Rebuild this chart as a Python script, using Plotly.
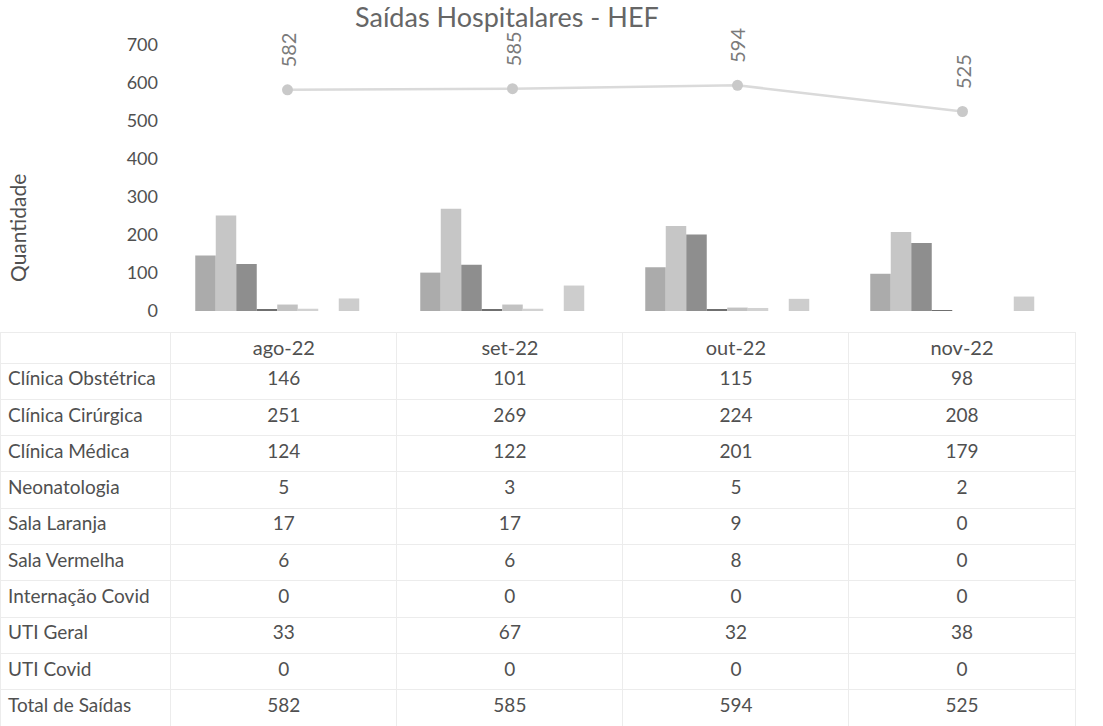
import plotly.graph_objects as go

W, H = 1103, 726

months = ["ago-22", "set-22", "out-22", "nov-22"]
series_names = [
    "Clínica Obstétrica", "Clínica Cirúrgica", "Clínica Médica", "Neonatologia",
    "Sala Laranja", "Sala Vermelha", "Internação Covid", "UTI Geral", "UTI Covid",
]
clinica_obstetrica = [146, 101, 115, 98]
clinica_cirurgica = [251, 269, 224, 208]
clinica_medica = [124, 122, 201, 179]
neonatologia = [5, 3, 5, 2]
sala_laranja = [17, 17, 9, 0]
sala_vermelha = [6, 6, 8, 0]
internacao_covid = [0, 0, 0, 0]
uti_geral = [33, 67, 32, 38]
uti_covid = [0, 0, 0, 0]
total_saidas = [582, 585, 594, 525]
total_name = "Total de Saídas"

series_values = [clinica_obstetrica, clinica_cirurgica, clinica_medica, neonatologia,
                 sala_laranja, sala_vermelha, internacao_covid, uti_geral, uti_covid]
bar_colors = ["#ababab", "#c6c6c6", "#8e8e8e", "#6f6f6f",
              "#c2c2c2", "#d2d2d2", "#bdbdbd", "#cdcdcd", "#bdbdbd"]

FONT = "Lato"
TXT = "#505050"

fig = go.Figure()
for name, vals, col in zip(series_names, series_values, bar_colors):
    fig.add_trace(go.Bar(x=months, y=vals, name=name, marker=dict(color=col, line=dict(width=0)),
                         xaxis="x", yaxis="y"))

fig.add_trace(go.Scatter(x=months, y=total_saidas, name=total_name, mode="lines+markers",
                         line=dict(color="#dadada", width=2.5),
                         marker=dict(color="#c9c9c9", size=11),
                         cliponaxis=False, xaxis="x", yaxis="y"))

for m, v in zip(months, total_saidas):
    fig.add_annotation(x=m, y=v, xref="x", yref="y", text=str(v), textangle=-90,
                       showarrow=False, yanchor="middle", yshift=40,
                       font=dict(family=FONT, size=20, color="#7a7a7a"))

# data table below chart
header_vals = [""] + months
cell_cols = [series_names + [total_name]]
for i in range(len(months)):
    cell_cols.append([str(s[i]) for s in series_values] + [str(total_saidas[i])])

x_left = 175 / W
x_right = 1075 / W
fig.add_trace(go.Table(
    domain=dict(x=[0, x_right], y=[0, 1 - 332 / H]),
    columnwidth=[170, 225, 225, 225, 225],
    header=dict(values=header_vals, height=31,
                align=["left", "center", "center", "center", "center"],
                fill=dict(color="white"), line=dict(color="#ececec", width=1),
                font=dict(family=FONT, size=20, color=TXT)),
    cells=dict(values=cell_cols, height=36.3,
               align=["left", "center", "center", "center", "center"],
               fill=dict(color="white"), line=dict(color="#ececec", width=1),
               font=dict(family=FONT, size=19, color=TXT)),
))

fig.update_layout(
    width=W, height=H,
    margin=dict(l=0, r=0, t=0, b=0),
    paper_bgcolor="white", plot_bgcolor="white",
    showlegend=False,
    barmode="group", bargap=0.18, bargroupgap=0,
    xaxis=dict(domain=[x_left, x_right], showticklabels=False, showgrid=False,
               zeroline=False, showline=False, ticks="", automargin=False),
    yaxis=dict(domain=[1 - 311 / H, 1 - 45 / H], range=[0, 700], dtick=100,
               showgrid=False, zeroline=False, showline=False, ticks="",
               ticklabelstandoff=16, automargin=False,
               tickfont=dict(family=FONT, size=18, color=TXT)),
    font=dict(family=FONT),
)

fig.add_annotation(text="Saídas Hospitalares - HEF", xref="paper", yref="paper",
                   x=507 / W, y=1 - 17 / H, showarrow=False, xanchor="center", yanchor="middle",
                   font=dict(family=FONT, size=27, color="#666666"))
fig.add_annotation(text="Quantidade", xref="paper", yref="paper", textangle=-90,
                   x=17 / W, y=1 - 228 / H, showarrow=False, xanchor="center", yanchor="middle",
                   font=dict(family=FONT, size=21, color=TXT))

fig.write_html("out.html", config={"displayModeBar": False},
               post_script="document.body.style.margin='0px';")
